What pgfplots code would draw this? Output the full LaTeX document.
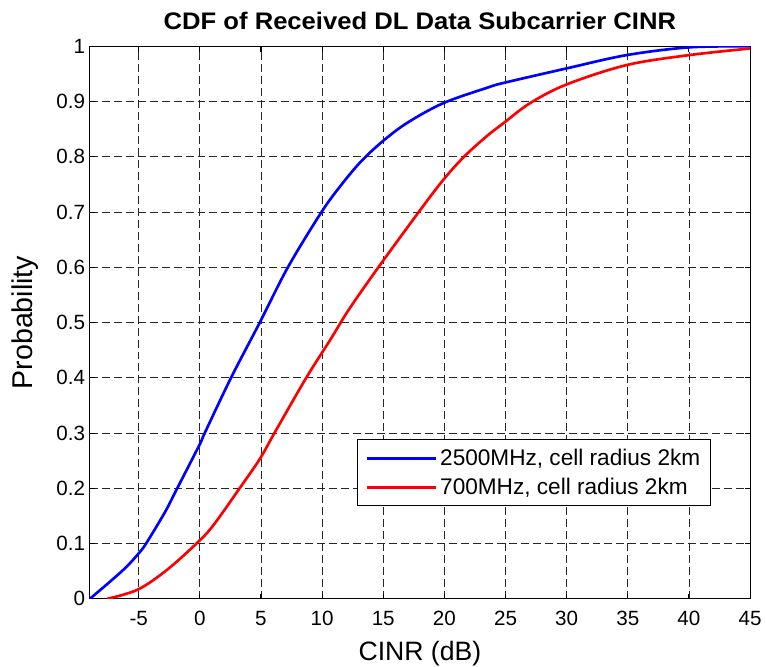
\documentclass[border=0pt]{standalone}
\usepackage{fontspec}
\setmainfont{Liberation Sans}
\newfontfamily\titlefont[FakeStretch=1.07]{Liberation Sans}
\usepackage{pgfplots}
\pgfplotsset{compat=1.18}

% 2500 MHz curve
\pgfplotstableread{
x y
-9.0 0.000
-7.2 0.034
-6.0 0.058
-5.05 0.081
-4.4 0.100
-2.85 0.157
-1.85 0.200
0.0 0.280
0.4 0.300
2.55 0.400
4.9 0.500
7.2 0.600
9.95 0.700
11.6 0.750
13.2 0.792
15.0 0.829
17.0 0.862
19.9 0.897
23.5 0.925
24.9 0.934
30.0 0.960
34.9 0.984
40.0 0.998
45.0 1.000
}\bluedata

% 700 MHz curve
\pgfplotstableread{
x y
-7.6 0.000
-5.05 0.017
-2.6 0.054
0.0 0.106
1.2 0.136
3.25 0.200
4.9 0.253
6.1 0.300
8.7 0.400
10.7 0.470
12.2 0.524
14.6 0.600
17.9 0.700
19.9 0.758
21.6 0.800
23.5 0.838
24.9 0.862
27.0 0.897
30.0 0.931
34.9 0.966
40.0 0.984
45.0 0.996
}\reddata

\begin{document}
\begin{tikzpicture}
\begin{axis}[
  name=ax,
  scale only axis,
  width=496.5pt, height=415.5pt,
  xmin=-9, xmax=45, ymin=0, ymax=1,
  xtick={-5,0,...,45},
  ytick={0,0.1,...,1},
  yticklabels={0,0.1,0.2,0.3,0.4,0.5,0.6,0.7,0.8,0.9,1},
  tick align=inside,
  tick pos=both,
  major tick length=4pt,
  grid=major,
  major grid style={black!85, line width=0.6pt, dash pattern=on 6pt off 3pt},
  axis line style={black, line width=0.8pt},
  every tick/.style={black, line width=0.8pt},
  /pgf/number format/assume math mode=true,
  tick label style={font=\fontsize{15.5}{18}\selectfont},
  xticklabel style={yshift=-6pt},
  xlabel={CINR (dB)},
  ylabel={Probability},
  xlabel style={font=\fontsize{20}{23}\selectfont, at={(axis description cs:0.5,-0.077)},
    anchor=north, inner sep=0pt},
  ylabel style={font=\fontsize{21.5}{24}\selectfont, at={(axis description cs:-0.0705,0.5)},
    anchor=south},
  every axis title shift=0pt,
  title={\titlefont\bfseries CDF of Received DL Data Subcarrier CINR},
  title style={font=\fontsize{18}{21}\selectfont, at={(axis description cs:0.5,1)},
    anchor=base, yshift=12.75pt, inner ysep=9pt},
  legend style={at={(0.405,0.289)}, anchor=north west, draw=black, line width=0.8pt,
    font=\fontsize{17}{20}\selectfont, row sep=4pt, inner xsep=6pt, inner ysep=5pt},
  legend cell align=left,
  legend image code/.code={\draw[#1, line width=2pt] (0pt,0pt) -- (52pt,0pt);},
]
\addplot[blue, line width=2pt, smooth, tension=0.55] table {\bluedata};
\addlegendentry{2500MHz, cell radius 2km}
\addplot[red, line width=2pt, smooth, tension=0.55] table {\reddata};
\addlegendentry{700MHz, cell radius 2km}
\end{axis}
% keep the blank margin left of the y label, as in the reference
\path ([xshift=-67.5pt]ax.south west);
\end{tikzpicture}
\end{document}
